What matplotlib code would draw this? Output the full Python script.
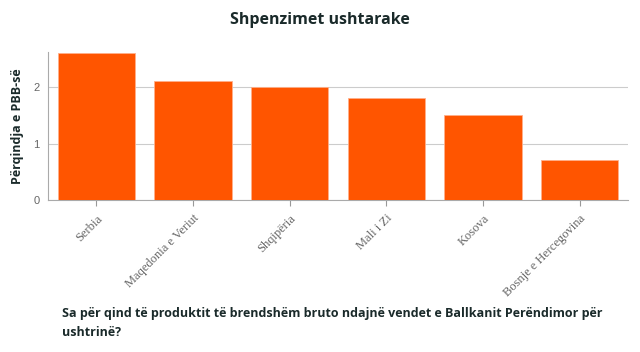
import matplotlib.pyplot as plt

countries = ['Serbia', 'Maqedonia e Veriut', 'Shqipëria', 'Mali i Zi', 'Kosova', 'Bosnje e Hercegovina']
values = [2.6, 2.1, 2.0, 1.8, 1.5, 0.7]
yticks = [0, 1, 2]

fig = plt.figure(figsize=(6.4, 3.52), dpi=100)
ax = fig.add_axes([48/640, 1 - 200/352, 580/640, 148/352])

ax.bar(range(len(countries)), values, width=0.8, color='#ff5500', edgecolor='#ffb08a', linewidth=0.6, zorder=3)
ax.set_xlim(-0.5, len(countries) - 0.5)
ax.set_ylim(0, 2.62)
ax.set_yticks(yticks)
ax.set_yticklabels([str(t) for t in yticks], fontsize=8, color='#666666', family='Liberation Sans')
ax.yaxis.grid(True, color='#cccccc', linewidth=0.8, zorder=0)
ax.tick_params(axis='y', length=0, pad=6)
ax.set_xticks(range(len(countries)))
ax.set_xticklabels(countries, rotation=45, ha='right', rotation_mode='anchor',
                   fontsize=9, color='#666666', family='Liberation Serif')
ax.tick_params(axis='x', length=4, color='#999999', pad=5)
for s in ['top', 'right']:
    ax.spines[s].set_visible(False)
ax.spines['left'].set_color('#aaaaaa')
ax.spines['bottom'].set_color('#aaaaaa')

ax.set_ylabel('Përqindja e PBB-së', fontsize=9, fontweight='bold', color='#1a2a2a', family='Open Sans')
ax.yaxis.set_label_coords(-24/580, 0.5)

fig.text(0.5, 1 - 20/352, 'Shpenzimet ushtarake', ha='center', va='center',
         fontsize=11.5, fontweight='bold', color='#1a2a2a', family='Open Sans')
fig.text(62/640, 1 - 313/352, 'Sa për qind të produktit të brendshëm bruto ndajnë vendet e Ballkanit Perëndimor për',
         ha='left', va='center', fontsize=9, fontweight='bold', color='#1a2a2a', family='Open Sans')
fig.text(62/640, 1 - 333/352, 'ushtrinë?', ha='left', va='center', fontsize=9, fontweight='bold',
         color='#1a2a2a', family='Open Sans')

fig.savefig('out.png', dpi=100)
